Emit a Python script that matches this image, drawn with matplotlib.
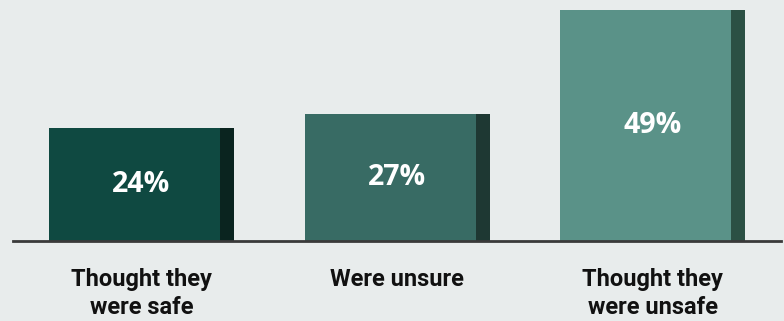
import matplotlib.pyplot as plt
import numpy as np

categories = ["Thought they\nwere safe", "Were unsure", "Thought they\nwere unsafe"]
values = [24, 27, 49]
value_labels = ["24%", "27%", "49%"]
front_colors = ["#0f4941", "#386b64", "#5a9288"]
side_colors = ["#0a241f", "#1e3833", "#2b5044"]

bg = "#e8ecec"
fig = plt.figure(figsize=(7.84, 3.21), dpi=100, facecolor=bg)

# axes spans baseline (y=241px) up to the top of the image
W, H = 784, 321
ax = fig.add_axes([13 / W, 80 / H, (781 - 13) / W, 241 / H])
ax.set_facecolor(bg)

step = 255.5
px_per_unit = 231 / 49
front_w = 171 / step
side_w = 14 / step
x = np.arange(len(values))

ax.bar(x, values, width=front_w, color=front_colors, align="center", zorder=2)
ax.bar(x + front_w / 2, values, width=side_w, color=side_colors, align="edge", zorder=2)

ax.set_xlim((13 - 134.5) / step, (781 - 134.5) / step)
ax.set_ylim(0, 241 / px_per_unit)

center = x - front_w / 2 + (front_w + side_w) / 2
for cx, v, lab in zip(center, values, value_labels):
    ax.text(cx, v / 2, lab, ha="center", va="center", color="white",
            fontsize=20.5, fontweight="bold", family="Open Sans")

for cx, lab in zip(center, categories):
    ax.text(cx, -27 / px_per_unit, lab, ha="center", va="top", color="#111111",
            fontsize=17, fontweight="bold", family="Roboto",
            linespacing=1.3)

ax.axhline(0, color="#3a3a3a", lw=2, zorder=3, clip_on=False)
for s in ax.spines.values():
    s.set_visible(False)
ax.set_xticks([])
ax.set_yticks([])

fig.savefig("out.png", dpi=100, facecolor=bg)
